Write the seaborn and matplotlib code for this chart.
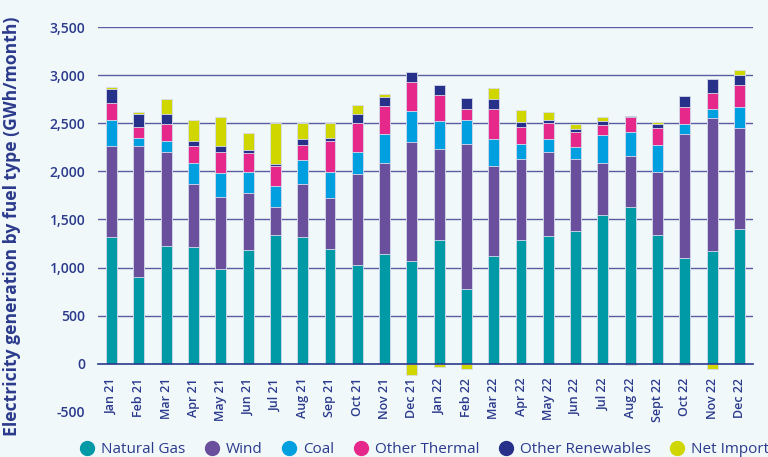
import numpy as np
import pandas as pd
import matplotlib
matplotlib.use("Agg")
import matplotlib.pyplot as plt
from matplotlib.lines import Line2D
from matplotlib.ticker import FuncFormatter
import seaborn as sns

months = ["Jan 21", "Feb 21", "Mar 21", "Apr 21", "May 21", "Jun 21", "Jul 21", "Aug 21",
          "Sep 21", "Oct 21", "Nov 21", "Dec 21", "Jan 22", "Feb 22", "Mar 22", "Apr 22",
          "May 22", "Jun 22", "Jul 22", "Aug 22", "Sept 22", "Oct 22", "Nov 22", "Dec 22"]

natural_gas = [1318, 905, 1227, 1213, 981, 1182, 1342, 1318, 1196, 1026, 1141, 1068,
               1286, 777, 1123, 1286, 1328, 1383, 1546, 1633, 1342, 1095, 1168, 1401]
wind = [942, 1355, 971, 652, 753, 593, 291, 547, 523, 943, 942, 1234,
        946, 1508, 929, 843, 870, 746, 537, 523, 655, 1294, 1383, 1046]
coal = [270, 83, 121, 222, 249, 222, 218, 249, 278, 229, 309, 322,
        292, 245, 281, 159, 135, 128, 295, 250, 277, 104, 101, 219]
other_thermal = [181, 122, 177, 173, 219, 190, 201, 160, 322, 308, 288, 302,
                 274, 119, 319, 177, 173, 149, 100, 160, 173, 177, 163, 232]
other_renewables = [146, 132, 101, 59, 58, 35, 21, 63, 28, 91, 93, 104,
                    100, 117, 104, 45, 32, 31, 46, 10, 46, 117, 142, 104]
net_import = [24, 24, 156, 215, 302, 180, 430, 166, 156, 97, 35, -111,
              -35, -55, 111, 124, 83, 52, 38, -10, 21, -10, -55, 52]

series_names = ["Natural Gas", "Wind", "Coal", "Other Thermal", "Other Renewables", "Net Import"]
series_vals = [natural_gas, wind, coal, other_thermal, other_renewables, net_import]
colors = ["#009aa6", "#6a4f9c", "#00a0e0", "#e6288a", "#28318a", "#cfd600"]
y_ticks = [-500, 0, 500, 1000, 1500, 2000, 2500, 3000, 3500]

bg = "#f0f8fa"
navy = "#2b3a8c"

sns.set_theme(style="white")
plt.rcParams["font.family"] = ["Open Sans", "DejaVu Sans"]

fig = plt.figure(figsize=(7.68, 4.57), dpi=100, facecolor=bg)
ax = fig.add_axes([0.1276, 0.0985, 0.8529, 0.8424])
ax.set_facecolor(bg)

# stacked positive parts (drawn top layer first, each lower cumulative covers)
pos = [np.array(v, dtype=float) for v in series_vals]
pos[-1] = np.clip(pos[-1], 0, None)
cum = np.cumsum(np.vstack(pos), axis=0)
for i in range(len(series_names) - 1, -1, -1):
    df = pd.DataFrame({"month": months, "value": cum[i]})
    sns.barplot(data=df, x="month", y="value", order=months, color=colors[i],
                width=0.4, saturation=1, edgecolor="#d8dcec", linewidth=0.6, ax=ax)
# negative net imports
neg = np.clip(np.array(net_import, dtype=float), None, 0)
dfn = pd.DataFrame({"month": months, "value": neg})
sns.barplot(data=dfn, x="month", y="value", order=months, color=colors[-1],
            width=0.4, saturation=1, edgecolor="#d8dcec", linewidth=0.6, ax=ax)

ax.set_xlim(-0.5, len(months) - 0.5)
ax.set_ylim(-500, 3500)
ax.set_yticks(y_ticks)
ax.yaxis.set_major_formatter(FuncFormatter(lambda v, p: f"{int(v):,}"))
ax.set_axisbelow(True)
ax.yaxis.grid(True, color="#5a5ea0", linewidth=1.0)
for gl, t in zip(ax.get_ygridlines(), y_ticks):
    if t <= 0:
        gl.set_visible(False)

for s in ["top", "right", "left"]:
    ax.spines[s].set_visible(False)
ax.spines["bottom"].set_position(("data", 0))
ax.spines["bottom"].set_color(navy)
ax.spines["bottom"].set_linewidth(1.2)

ax.set_xticks(range(len(months)))
ax.set_xticklabels(months, rotation=90, fontsize=9, color=navy, fontweight="semibold")
ax.set_xticks(np.arange(-0.5, len(months), 1.0), minor=True)
ax.tick_params(axis="x", which="major", length=0, pad=10)
ax.tick_params(axis="x", which="minor", length=4, width=1, color=navy, direction="out")
ax.tick_params(axis="y", length=0, labelsize=10, labelcolor=navy, pad=9)
for lbl in ax.get_yticklabels():
    lbl.set_fontweight("semibold")
ax.set_xlabel("")
ax.set_ylabel("Electricity generation by fuel type (GWh/month)", fontsize=12.6,
              color=navy, fontweight="bold")
ax.yaxis.set_label_coords(-0.117, 0.482)

handles = [Line2D([0], [0], marker="o", linestyle="", markersize=10,
                  markerfacecolor=c, markeredgecolor=c) for c in colors]
fig.legend(handles, series_names, loc="lower center", bbox_to_anchor=(0.553, -0.03),
           ncol=6, frameon=False, fontsize=11, handlelength=0.9, handletextpad=0.45,
           columnspacing=1.3, labelcolor=navy)

fig.savefig("out.png", dpi=100, facecolor=bg)
